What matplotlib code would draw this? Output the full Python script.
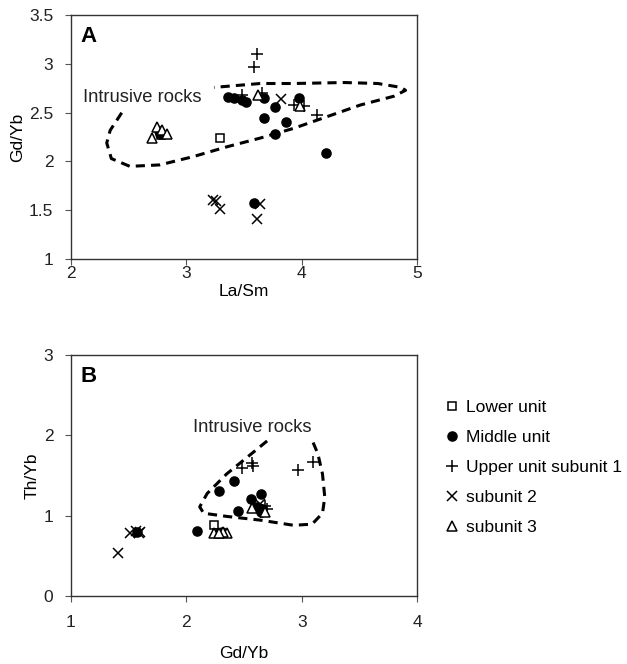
import matplotlib
matplotlib.use("Agg")
import matplotlib.pyplot as plt

plt.rcParams['font.family'] = ['Liberation Sans', 'DejaVu Sans']
plt.rcParams['font.size'] = 12.5

# samples: La/Sm, Gd/Yb, Th/Yb
lower_la_sm = [3.29, 2.78]
lower_gd_yb = [2.24, 2.27]
lower_th_yb = [0.88, 0.78]

middle_la_sm = [3.36, 3.41, 3.48, 3.52, 3.67, 3.77, 3.98, 3.67, 3.86, 3.77, 4.21, 3.585, 2.77, 2.76]
middle_gd_yb = [2.66, 2.65, 2.63, 2.615, 2.65, 2.56, 2.65, 2.45, 2.41, 2.28, 2.09, 1.57, 2.28, 2.31]
middle_th_yb = [1.08, 1.27, 1.10, 1.11, 1.05, 1.21, 1.08, 1.06, 1.43, 1.31, 0.81, 0.80, 0.79, 0.80]

sub1_la_sm = [3.61, 3.59, 3.48, 3.66, 3.93, 4.02, 4.13]
sub1_gd_yb = [3.10, 2.97, 2.68, 2.70, 2.58, 2.57, 2.48]
sub1_th_yb = [1.67, 1.57, 1.12, 1.08, 1.62, 1.66, 1.59]

sub2_la_sm = [3.82, 3.23, 3.26, 3.29, 3.64, 3.61]
sub2_gd_yb = [2.64, 1.60, 1.59, 1.51, 1.565, 1.41]
sub2_th_yb = [1.15, 0.80, 0.79, 0.78, 0.81, 0.54]

sub3_la_sm = [3.62, 3.985, 2.70, 2.745, 2.79, 2.83]
sub3_gd_yb = [2.68, 2.57, 2.24, 2.35, 2.32, 2.28]
sub3_th_yb = [1.05, 1.09, 0.79, 0.78, 0.80, 0.78]

# intrusive rocks envelopes (hand drawn in the original)
env_a_x = [2.44, 2.34, 2.31, 2.35, 2.51, 2.77, 3.06, 3.35, 3.64, 3.93, 4.22, 4.51, 4.80, 4.90, 4.86, 4.66, 4.37, 3.93, 3.64, 3.24]
env_a_y = [2.50, 2.32, 2.19, 2.03, 1.95, 1.965, 2.05, 2.15, 2.24, 2.34, 2.46, 2.58, 2.67, 2.73, 2.76, 2.80, 2.81, 2.80, 2.80, 2.76]
env_b_x = [2.70, 2.53, 2.35, 2.18, 2.116, 2.15, 2.354, 2.643, 2.93, 3.09, 3.18, 3.20, 3.18, 3.14, 3.09]
env_b_y = [1.93, 1.73, 1.52, 1.275, 1.11, 1.03, 0.99, 0.944, 0.88, 0.894, 1.03, 1.23, 1.52, 1.77, 1.94]

groups = [
    ('Lower unit', 's', 5.5, 'white', lower_la_sm, lower_gd_yb, lower_th_yb),
    ('Middle unit', 'o', 6.5, 'black', middle_la_sm, middle_gd_yb, middle_th_yb),
    ('Upper unit subunit 1', '+', 8, 'black', sub1_la_sm, sub1_gd_yb, sub1_th_yb),
    ('subunit 2', 'x', 7, 'black', sub2_la_sm, sub2_gd_yb, sub2_th_yb),
    ('subunit 3', '^', 7, 'white', sub3_la_sm, sub3_gd_yb, sub3_th_yb),
]

fig = plt.figure(figsize=(6.27, 6.64), dpi=100)
ax1 = fig.add_axes([0.1132, 0.610, 0.552, 0.367])
ax2 = fig.add_axes([0.1132, 0.1024, 0.552, 0.363])

handles = []
for label, mk, ms, fc, la_sm, gd_yb, th_yb in groups:
    ax1.plot(la_sm, gd_yb, linestyle='none', marker=mk, markersize=ms,
             markerfacecolor=fc, markeredgecolor='black', markeredgewidth=1.1)
    h, = ax2.plot(gd_yb, th_yb, linestyle='none', marker=mk, markersize=ms,
                  markerfacecolor=fc, markeredgecolor='black', markeredgewidth=1.1, label=label)
    handles.append(h)

ax1.plot(env_a_x, env_a_y, color='black', linestyle=(0, (3, 2)), linewidth=2.2)
ax2.plot(env_b_x, env_b_y, color='black', linestyle=(0, (3, 2)), linewidth=2.2)

ax1.text(2.10, 2.66, 'Intrusive rocks', va='center', ha='left', color='#222222', fontsize=13.2)
ax2.text(2.06, 2.10, 'Intrusive rocks', va='center', ha='left', color='#222222', fontsize=13.2)

ax1.text(0.028, 0.955, 'A', transform=ax1.transAxes, fontsize=16, fontweight='bold', va='top')
ax2.text(0.028, 0.955, 'B', transform=ax2.transAxes, fontsize=16, fontweight='bold', va='top')

ax1.set_xlim(2, 5)
ax1.set_ylim(1, 3.5)
ax1.set_xticks([2, 3, 4, 5])
ax1.set_yticks([1, 1.5, 2, 2.5, 3, 3.5])
ax1.set_yticklabels(['1', '1.5', '2', '2.5', '3', '3.5'])
ax1.set_xlabel('La/Sm', labelpad=2)
ax1.set_ylabel('Gd/Yb', labelpad=3)

ax2.set_xlim(1, 4)
ax2.set_ylim(0, 3)
ax2.set_xticks([1, 2, 3, 4])
ax2.set_yticks([0, 1, 2, 3])
ax2.set_xlabel('Gd/Yb', labelpad=11.5)
ax2.set_ylabel('Th/Yb', labelpad=3)

for ax in (ax1, ax2):
    for s in ax.spines.values():
        s.set_color('#333333')
        s.set_linewidth(1.0)
    ax.tick_params(direction='out', length=4, width=0.8, color='#555555',
                   labelcolor='#222222')
    ax.tick_params(axis='y', pad=8.6)
ax1.tick_params(axis='x', pad=1.4)
ax2.tick_params(axis='x', pad=10)

fig.legend(handles=handles, loc='upper left', bbox_to_anchor=(0.7097, 0.3976),
           frameon=False, handlelength=0.8, handletextpad=0.4, borderpad=0,
           borderaxespad=0, labelspacing=0.86, numpoints=1, markerscale=1.0)

fig.savefig('out.png', dpi=100)
